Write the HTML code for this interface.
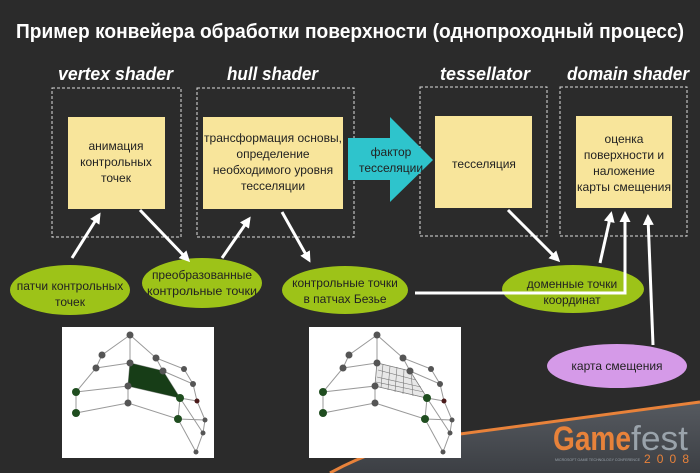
<!DOCTYPE html>
<html><head><meta charset="utf-8"><style>
html,body{margin:0;padding:0;background:#2b2b2b;}
svg{display:block;}
text{font-family:"Liberation Sans","DejaVu Sans",sans-serif;}
</style></head><body>
<svg width="700" height="473" viewBox="0 0 700 473" xmlns="http://www.w3.org/2000/svg">
<defs>
<linearGradient id="g1" x1="0" y1="0" x2="0" y2="1"><stop offset="0" stop-color="#565a60"/><stop offset="1" stop-color="#3c3f44"/></linearGradient>
<marker id="ah" markerWidth="11" markerHeight="11" refX="8" refY="5.5" orient="auto" markerUnits="userSpaceOnUse"><path d="M0,0 L11,5.5 L0,11 z" fill="#fff"/></marker>
</defs>
<rect width="700" height="473" fill="#2b2b2b"/>
<path d="M330,473 Q390,440 460,434 Q580,418 700,402 L700,473 Z" fill="url(#g1)"/>
<path d="M330,473 Q390,440 460,434 Q580,418 700,402" fill="none" stroke="#e8823a" stroke-width="3"/>
<text x="350" y="38" text-anchor="middle" fill="#fff" font-size="20" font-weight="bold" textLength="668" lengthAdjust="spacingAndGlyphs">Пример конвейера обработки поверхности (однопроходный процесс)</text>
<g fill="#fff" font-size="18" font-weight="bold" font-style="italic">
<text x="58" y="80" textLength="115" lengthAdjust="spacingAndGlyphs">vertex shader</text>
<text x="227" y="80" textLength="91" lengthAdjust="spacingAndGlyphs">hull shader</text>
<text x="440" y="80" textLength="90" lengthAdjust="spacingAndGlyphs">tessellator</text>
<text x="567" y="80" textLength="122" lengthAdjust="spacingAndGlyphs">domain shader</text>
</g>
<g fill="none" stroke="#ddd" stroke-width="1" stroke-dasharray="3,2">
<rect x="52" y="88" width="129" height="149"/>
<rect x="197" y="88" width="157" height="149"/>
<rect x="420" y="87" width="127" height="149"/>
<rect x="560" y="87" width="127" height="149"/>
</g>
<g fill="#f8e59b">
<rect x="68" y="117" width="97" height="92"/>
<rect x="203" y="117" width="140" height="92"/>
<rect x="435" y="116" width="97" height="92"/>
<rect x="576" y="116" width="96" height="92"/>
</g>
<g fill="#222" font-size="12" text-anchor="middle">
<text x="116" y="150">анимация</text>
<text x="116" y="166">контрольных</text>
<text x="116" y="182">точек</text>
<text x="273" y="142" textLength="138" lengthAdjust="spacingAndGlyphs">трансформация основы,</text>
<text x="273" y="158">определение</text>
<text x="273" y="174">необходимого уровня</text>
<text x="273" y="190">тесселяции</text>
<text x="484" y="168">тесселяция</text>
<text x="624" y="143">оценка</text>
<text x="624" y="159">поверхности и</text>
<text x="624" y="175">наложение</text>
<text x="624" y="191" textLength="94" lengthAdjust="spacingAndGlyphs">карты смещения</text>
</g>
<path d="M348,138 L390,138 L390,117 L433,160 L390,202 L390,180 L348,180 Z" fill="#2ec4cc"/>
<text x="391" y="156" text-anchor="middle" font-size="12" fill="#222">фактор</text>
<text x="391" y="172" text-anchor="middle" font-size="12" fill="#222">тесселяции</text>
<g fill="#9dc318">
<ellipse cx="70" cy="290" rx="60" ry="25"/>
<ellipse cx="202" cy="283" rx="60" ry="25"/>
<ellipse cx="345" cy="290" rx="63" ry="24"/>
<ellipse cx="573" cy="289" rx="71" ry="24"/>
</g>
<ellipse cx="617" cy="366" rx="70" ry="22" fill="#d59ae8"/>
<g fill="#222" font-size="12" text-anchor="middle">
<text x="70" y="290">патчи контрольных</text>
<text x="70" y="306">точек</text>
<text x="202" y="279">преобразованные</text>
<text x="202" y="295" textLength="110" lengthAdjust="spacingAndGlyphs">контрольные точки</text>
<text x="345" y="287">контрольные точки</text>
<text x="345" y="303">в патчах Безье</text>
<text x="572" y="288">доменные точки</text>
<text x="572" y="304">координат</text>
<text x="617" y="370">карта смещения</text>
</g>
<g stroke="#fff" stroke-width="3" fill="none" marker-end="url(#ah)">
<line x1="72" y1="258" x2="99" y2="215"/>
<line x1="140" y1="210" x2="188" y2="260"/>
<line x1="222" y1="258" x2="249" y2="219"/>
<line x1="282" y1="212" x2="309" y2="260"/>
<line x1="508" y1="210" x2="558" y2="260"/>
<line x1="600" y1="263" x2="611" y2="214"/>
<polyline points="415,293 625,293 625,214"/>
<line x1="653" y1="345" x2="648" y2="217"/>
</g>
<g id="m1">
<rect x="62" y="327" width="152" height="131" fill="#fff"/>
<g stroke="#999" stroke-width="1" fill="none">
<path d="M130,335 L102,355 L96,368 L76,392 L76,413 L128,403 L178,419 L196,452 L203,433 L205,420 L197,401 L193,384 L184,369 L156,358 L130,335 L130,363 L96,368 M130,363 L163,371 L193,384 M156,358 L163,371 L180,398 L197,401 M76,392 L128,386 L130,363 M128,386 L128,403 M128,386 L180,398 L178,419 M180,398 L203,433 M178,419 L205,420"/>
</g>
</g>
<path d="M130,363 L163,371 L180,398 L128,386 Z" fill="#173d17"/>
<g fill="#555">
<circle cx="130" cy="335" r="3.5"/><circle cx="102" cy="355" r="3.5"/><circle cx="156" cy="358" r="3.5"/><circle cx="96" cy="368" r="3.5"/><circle cx="130" cy="363" r="3.5"/><circle cx="163" cy="371" r="3.5"/><circle cx="184" cy="369" r="3"/><circle cx="128" cy="386" r="3.5"/><circle cx="193" cy="384" r="3"/><circle cx="128" cy="403" r="3.5"/><circle cx="205" cy="420" r="2.5"/><circle cx="203" cy="433" r="2.5"/><circle cx="196" cy="452" r="2.5"/>
</g>
<g fill="#1f4d1f"><circle cx="76" cy="392" r="4"/><circle cx="76" cy="413" r="4"/><circle cx="180" cy="398" r="4"/><circle cx="178" cy="419" r="4"/></g>
<circle cx="197" cy="401" r="2.5" fill="#4a1a1a"/>
<use href="#m1" x="247" y="0"/>
<g stroke="#777" stroke-width="0.6">
<path d="M377,363 L410,371 L427,398 L375,386 Z" fill="#e8e8e8"/>
<path d="M383,364 L381,388 M390,366 L388,390 M397,367 L395,392 M404,369 L403,394 M411,372 L413,396 M416,380 L378,370 M421,387 L377,377 M424,392 L376,382"/>
</g>
<g fill="#555" transform="translate(247,0)">
<circle cx="130" cy="335" r="3.5"/><circle cx="102" cy="355" r="3.5"/><circle cx="156" cy="358" r="3.5"/><circle cx="96" cy="368" r="3.5"/><circle cx="130" cy="363" r="3.5"/><circle cx="163" cy="371" r="3.5"/><circle cx="184" cy="369" r="3"/><circle cx="128" cy="386" r="3.5"/><circle cx="193" cy="384" r="3"/><circle cx="128" cy="403" r="3.5"/><circle cx="205" cy="420" r="2.5"/><circle cx="203" cy="433" r="2.5"/><circle cx="196" cy="452" r="2.5"/>
<g fill="#1f4d1f"><circle cx="76" cy="392" r="4"/><circle cx="76" cy="413" r="4"/><circle cx="180" cy="398" r="4"/><circle cx="178" cy="419" r="4"/></g>
<circle cx="197" cy="401" r="2.5" fill="#4a1a1a"/>
</g>
<text x="553" y="450" font-size="34" font-weight="bold" fill="#e8823a" textLength="78" lengthAdjust="spacingAndGlyphs">Game</text>
<text x="631" y="450" font-size="34" fill="#9aa3ab" textLength="57" lengthAdjust="spacingAndGlyphs">fest</text>
<text x="555" y="461" font-size="4" fill="#9aa3ab" textLength="85" lengthAdjust="spacingAndGlyphs">MICROSOFT GAME TECHNOLOGY CONFERENCE</text>
<text x="644" y="463" font-size="12" fill="#e8823a" textLength="45" lengthAdjust="spacing">2008</text>
</svg>
</body></html>
